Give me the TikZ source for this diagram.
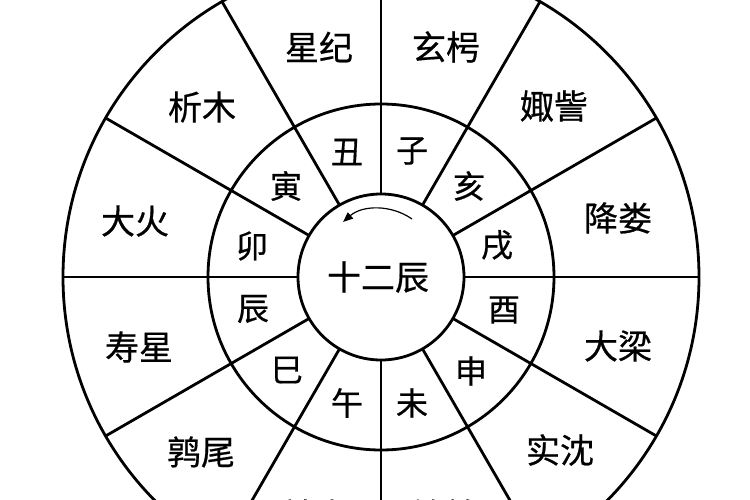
\documentclass[tikz,border=0pt]{standalone}
\usepackage{fontspec}
\newfontfamily\cjk[FakeBold=0.6]{Noto Sans CJK SC}
\usetikzlibrary{arrows.meta,calc}
\begin{document}
\begin{tikzpicture}[x=1pt,y=-1pt,
  ring/.style={line width=2.8pt, black},
  lab/.style={font=\cjk\fontsize{34}{34}\selectfont, inner sep=0pt, anchor=center},
  sub/.style={font=\cjk\fontsize{32}{32}\selectfont, inner sep=0pt, anchor=center},
  turn/.style={line width=1.2pt, -{Triangle[length=10pt,width=8pt]}}
  ]
\useasboundingbox (0,0) rectangle (750,500);
\fill[white] (0,0) rectangle (750,500);
\clip (0,0) rectangle (750,500);
\coordinate (C) at (381,277);
\draw[ring] (C) circle[radius=83pt];
\draw[ring] (C) circle[radius=173pt];
\draw[ring] (C) circle[radius=318pt];
\foreach \a in {0,30,...,330} \draw[ring] ($(C)+(\a:83)$) -- ($(C)+(\a:318)$);
% outer ring
\node[lab] (xingji) at (319,47) {星纪};
\node[lab] (xuanxiao) at (446,47) {玄枵};
\node[lab] (juzi) at (554,106) {娵訾};
\node[lab] (jianglou) at (618,218) {降娄};
\node[lab] (daliang) at (618,346) {大梁};
\node[lab] (shichen) at (560,450) {实沈};
\node[lab] (chunshou) at (443,515) {鹑首};
\node[lab] (chunhuo) at (315,515) {鹑火};
\node[lab] (chunwei) at (201,452) {鹑尾};
\node[lab] (shouxing) at (139,347) {寿星};
\node[lab] (dahuo) at (135,221) {大火};
\node[lab] (ximu) at (202,107) {析木};
% inner ring
\node[sub] (zi) at (412,151) {子};
\node[sub] (chou) at (347,152) {丑};
\node[sub] (yin) at (286,186) {寅};
\node[sub] (mao) at (252,246) {卯};
\node[sub] (chen) at (253,309) {辰};
\node[sub] (si) at (287,370) {巳};
\node[sub] (wu) at (347,403) {午};
\node[sub] (wei) at (412,403) {未};
\node[sub] (shen) at (471,371) {申};
\node[sub] (you) at (504,310) {酉};
\node[sub] (xu) at (497,245) {戌};
\node[sub] (hai) at (469,186) {亥};
% centre
\node[lab] (centre) at (378,277) {十二辰};
\coordinate (arrS) at (412,219);
\coordinate (arrE) at (343,222);
\draw[turn] (arrS) .. controls (391,204.3) and (362.4,205.1) .. (arrE);
\end{tikzpicture}
\end{document}
